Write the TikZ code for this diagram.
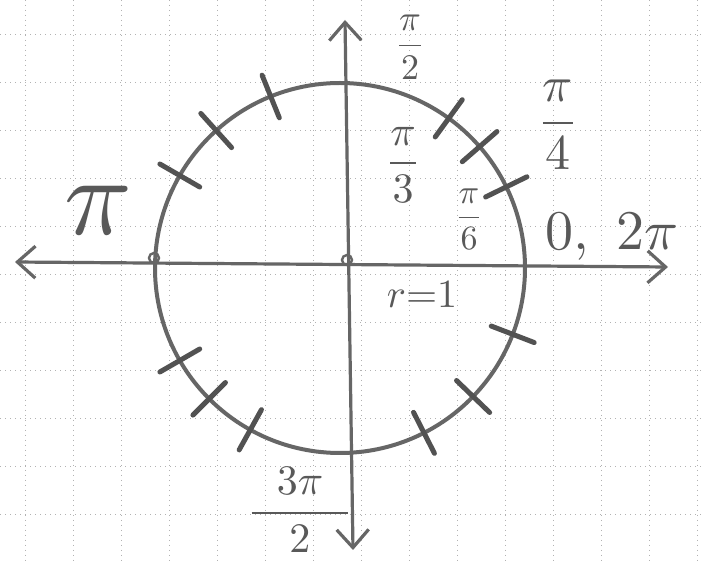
\documentclass[tikz,border=0pt]{standalone}
\usepackage{amsmath,amssymb}
\usepackage{graphicx}
\usepackage{tikz}
\usetikzlibrary{arrows.meta,positioning}

\begin{document}
\begin{tikzpicture}[
    x=0.5pt, y=-0.5pt,
    pencil/.style={draw=black!60, line width=2pt, line cap=round},
    axisline/.style={pencil, line width=1.6pt},
    tickmark/.style={draw=black!68, line width=2.5pt, line cap=round},
    gridline/.style={draw=black!30, dotted, line width=0.5pt},
    lbl/.style={text=black!65, inner sep=0pt},
    >={Straight Barb[length=9pt,width=16pt]}
]
\useasboundingbox (0,0) rectangle (703,561);
\fill[white] (0,0) rectangle (703,561);

% graph paper
\foreach \gx in {25,73,...,697}
  \draw[gridline] (\gx,0) -- (\gx,561);
\foreach \gy in {35,83,...,515}
  \draw[gridline] (0,\gy) -- (703,\gy);

% axes
\coordinate (W) at (15,262);
\coordinate (E) at (668,267);
\coordinate (N) at (345,20);
\coordinate (S) at (353,550);
\draw[axisline, <->] (W) -- (E);
\draw[axisline, <->] (N) -- (S);

% unit circle and its marks
\coordinate (O) at (340,268);
\draw[pencil] (O) circle[radius=92.5pt];
\foreach \a in {26,41,54,112,132,150,210,225,241,297,316,339}
  \draw[tickmark, shift={(O)}] (-\a:162) -- (-\a:208);
\draw[pencil, line width=1.2pt] (154,258) circle[radius=2.5pt];
\draw[pencil, line width=1.2pt] (347,260) circle[radius=2.5pt];

% labels
\node[lbl] (halfpi) at (410,47) {\scalebox{1.8}{$\dfrac{\pi}{2}$}};
\node[lbl] (quarterpi) at (558,125) {\scalebox{2.5}{$\dfrac{\pi}{4}$}};
\node[lbl] (thirdpi) at (403,165) {\scalebox{2.1}{$\dfrac{\pi}{3}$}};
\node[lbl] (sixthpi) at (469,219) {\scalebox{1.7}{$\dfrac{\pi}{6}$}};
\node[lbl] (zero) at (612,237) {\scalebox{2.8}{$0,\,\,2\pi$}};
\node[lbl] (pi) at (98,210) {\scalebox{5.6}{$\pi$}};
\node[lbl] (radius) at (422,295) {\scalebox{2}{$r{=}1$}};
\node[lbl] (threehalfpi) at (300,510) {\scalebox{2.1}{$\dfrac{\hspace{0.6em}3\pi\hspace{0.6em}}{2}$}};
\end{tikzpicture}
\end{document}
